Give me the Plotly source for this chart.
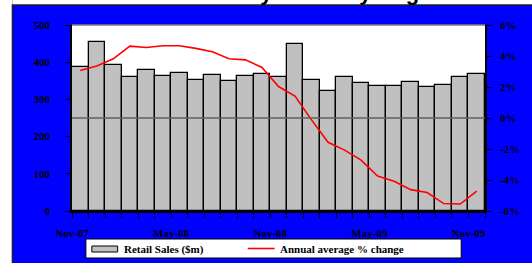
import numpy as np
import plotly.graph_objects as go

months = ["Nov-07", "Dec-07", "Jan-08", "Feb-08", "Mar-08", "Apr-08", "May-08",
          "Jun-08", "Jul-08", "Aug-08", "Sep-08", "Oct-08", "Nov-08", "Dec-08",
          "Jan-09", "Feb-09", "Mar-09", "Apr-09", "May-09", "Jun-09", "Jul-09",
          "Aug-09", "Sep-09", "Oct-09", "Nov-09"]
retail_sales = [386, 454, 393, 359, 379, 362, 370, 351, 366, 349, 362, 367, 359,
                448, 353, 323, 359, 345, 337, 336, 347, 334, 340, 360, 368]
annual_pct_change = [3.07, 3.35, 3.82, 4.64, 4.55, 4.66, 4.66, 4.49, 4.27, 3.82,
                     3.75, 3.26, 2.03, 1.42, -0.12, -1.57, -2.07, -2.72, -3.75,
                     -4.08, -4.62, -4.81, -5.52, -5.55, -4.72]
left_tick_vals = [0, 100, 200, 300, 400, 500]
left_tick_text = ["0", "100", "200", "300", "400", "500"]
right_tick_vals = [-6, -4, -2, 0, 2, 4, 6]
right_tick_text = ["-6%", "-4%", "-2%", "0%", "2%", "4%", "6%"]
x_label_idx = [0, 6, 12, 18, 24]
title_text = "Retail Sales - Bay of Plenty Region"
series_names = ["Retail Sales ($m)", "Annual average % change"]

W, H = 532, 263
L, R, T, B = 72, 44, 25, 52
PW, PH = W - L - R, H - T - B


def px(x):
    return (x - L) / PW


def py(y):
    return (H - B - y) / PH


serif = dict(family="Liberation Serif, Times New Roman, serif", size=11,
             color="black", weight="bold")

xpos = np.arange(len(months)) + 0.5

fig = go.Figure()
fig.add_bar(x=xpos, y=retail_sales, width=1, name=series_names[0],
            marker=dict(color="#C0C0C0", line=dict(color="black", width=1.3)),
            yaxis="y")
fig.add_scatter(x=xpos, y=annual_pct_change, mode="lines", name=series_names[1],
                line=dict(color="#FF0000", width=1.6), yaxis="y2")

fig.update_layout(
    width=W, height=H,
    margin=dict(l=L, r=R, t=T, b=B, pad=0),
    paper_bgcolor="#0000FF",
    plot_bgcolor="white",
    showlegend=False,
    bargap=0,
    xaxis=dict(range=[0, len(months)], tickmode="array",
               tickvals=x_label_idx, ticktext=[months[i] for i in x_label_idx],
               ticks="outside", ticklen=5, tickcolor="black", tickwidth=1,
               minor=dict(ticks="outside", ticklen=5, dtick=1, tick0=0,
                          tickcolor="black", tickwidth=1),
               showline=True, linecolor="black", linewidth=1.5,
               showgrid=False, zeroline=False, tickfont=serif,
               ticklabelstandoff=6, fixedrange=True),
    yaxis=dict(range=[0, 500], tickmode="array", tickvals=left_tick_vals,
               ticktext=left_tick_text, ticks="outside", ticklen=5,
               tickcolor="black", showline=True, linecolor="black",
               linewidth=1.5, showgrid=False, zeroline=False, tickfont=serif,
               ticklabelstandoff=13),
    yaxis2=dict(range=[-6, 6], overlaying="y", side="right", tickmode="array",
                tickvals=right_tick_vals, ticktext=right_tick_text,
                ticks="outside", ticklen=5, tickcolor="black", showline=True,
                linecolor="black", linewidth=1.5, showgrid=False,
                zeroline=False, tickfont=serif, ticklabelstandoff=6),
)

shapes = [
    # white margins around the blue panel
    dict(type="rect", xref="paper", yref="paper", x0=px(-5), x1=px(12),
         y0=py(270), y1=py(-5), fillcolor="white", line=dict(width=0),
         layer="below"),
    dict(type="rect", xref="paper", yref="paper", x0=px(12), x1=px(545),
         y0=py(5), y1=py(-5), fillcolor="white", line=dict(width=0),
         layer="below"),
    dict(type="rect", xref="paper", yref="paper", x0=px(12), x1=px(545),
         y0=py(270), y1=py(5), fillcolor="rgba(0,0,0,0)",
         line=dict(color="#202020", width=1.5), layer="below"),
    # top border of plot area
    dict(type="line", xref="paper", yref="paper", x0=0, x1=1, y0=1, y1=1,
         line=dict(color="#808080", width=1.5), layer="above"),
    # 0% reference line
    dict(type="line", xref="paper", yref="y2", x0=0, x1=1, y0=0, y1=0,
         line=dict(color="#606060", width=1.5), layer="above"),
    # legend box
    dict(type="rect", xref="paper", yref="paper", x0=px(86), x1=px(464),
         y0=py(258), y1=py(239), fillcolor="white",
         line=dict(color="black", width=1)),
    dict(type="rect", xref="paper", yref="paper", x0=px(92), x1=px(118),
         y0=py(252), y1=py(246), fillcolor="#C0C0C0",
         line=dict(color="black", width=1)),
    dict(type="line", xref="paper", yref="paper", x0=px(249), x1=px(276),
         y0=py(248.5), y1=py(248.5), line=dict(color="#FF0000", width=1.6)),
]
fig.update_layout(shapes=shapes)

annotations = [
    dict(text=series_names[0], xref="paper", yref="paper", x=px(122), y=py(249),
         xanchor="left", yanchor="middle", showarrow=False, font=serif),
    dict(text=series_names[1], xref="paper", yref="paper", x=px(279), y=py(249),
         xanchor="left", yanchor="middle", showarrow=False, font=serif),
    dict(text=title_text, xref="paper", yref="paper", x=px(272), y=py(6),
         xanchor="center", yanchor="bottom", showarrow=False, borderpad=0,
         font=dict(family="Liberation Sans, Arial, sans-serif", size=22,
                   color="black", weight="bold")),
]
fig.update_layout(annotations=annotations)

fig.write_html(
    "out.html",
    config={"displayModeBar": False},
    post_script="document.body.style.margin='0';"
                "document.body.style.padding='0';"
                "document.body.style.overflow='hidden';",
)
